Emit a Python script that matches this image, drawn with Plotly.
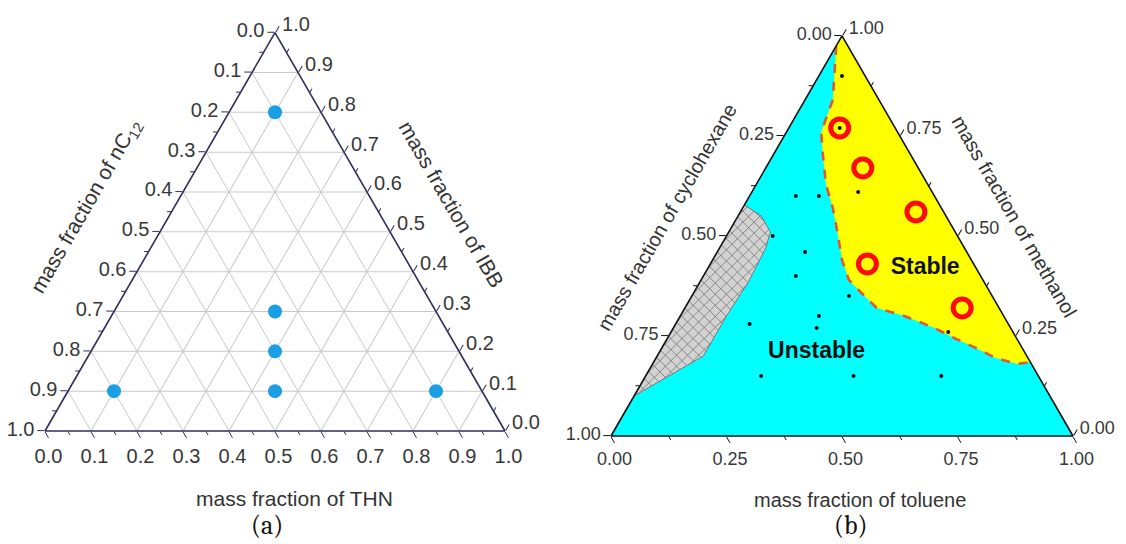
import numpy as np
import plotly.graph_objects as go

W, H = 1126, 544
SANS = "Arial, Liberation Sans, sans-serif"
SERIF = "Cambria, Liberation Serif, DejaVu Serif, serif"

# ---------------- panel (a): IBB (top) / nC12 (left) / THN (right) ----------------
a_ibb = [0.8, 0.3, 0.2, 0.1, 0.1, 0.1]
a_nc12 = [0.1, 0.35, 0.4, 0.45, 0.8, 0.1]
a_thn = [0.1, 0.35, 0.4, 0.45, 0.1, 0.8]

a_tickvals = [0.0, 0.1, 0.2, 0.3, 0.4, 0.5, 0.6, 0.7, 0.8, 0.9, 1.0]
a_ticktext = ["0.0", "0.1", "0.2", "0.3", "0.4", "0.5", "0.6", "0.7", "0.8", "0.9", "1.0"]
a_minorvals = [0.05, 0.15, 0.25, 0.35, 0.45, 0.55, 0.65, 0.75, 0.85, 0.95]

# ---------------- panel (b): methanol (top) / cyclohexane (left) / toluene (right) ----------------
# measured compositions (small black dots)
b_meth = [0.90, 0.60, 0.60, 0.61, 0.50, 0.46, 0.40, 0.35, 0.28, 0.30, 0.27, 0.26, 0.15, 0.15, 0.15, 0.77]
b_cyc = [0.05, 0.30, 0.25, 0.16, 0.40, 0.35, 0.40, 0.31, 0.56, 0.40, 0.42, 0.14, 0.60, 0.40, 0.21, 0.12]
b_tol = [0.05, 0.10, 0.15, 0.23, 0.10, 0.19, 0.20, 0.34, 0.16, 0.30, 0.31, 0.60, 0.25, 0.45, 0.64, 0.11]

# stable blends (red rings)
s_meth = [0.77, 0.67, 0.56, 0.43, 0.32]
s_cyc = [0.12, 0.12, 0.06, 0.23, 0.08]
s_tol = [0.11, 0.21, 0.38, 0.34, 0.60]

# stability boundary, from the methanol corner down to the methanol/toluene edge
bd_meth = [0.975, 0.84, 0.76, 0.715, 0.63, 0.57, 0.51, 0.44, 0.39, 0.36, 0.32, 0.30, 0.27, 0.245, 0.22, 0.195, 0.18, 0.185]
bd_cyc = [0.025, 0.10, 0.165, 0.185, 0.22, 0.235, 0.255, 0.28, 0.29, 0.28, 0.265, 0.215, 0.165, 0.135, 0.10, 0.07, 0.03, 0.0]
bd_tol = [0.0, 0.06, 0.075, 0.10, 0.15, 0.195, 0.235, 0.28, 0.32, 0.36, 0.415, 0.485, 0.565, 0.62, 0.68, 0.735, 0.79, 0.815]

# immiscible (hatched) region along the methanol/cyclohexane edge
hz_meth = [0.5775, 0.55, 0.51, 0.47, 0.385, 0.30, 0.20, 0.10]
hz_cyc = [0.4225, 0.40, 0.40, 0.43, 0.51, 0.60, 0.70, 0.90]
hz_tol = [0.0, 0.05, 0.09, 0.10, 0.105, 0.10, 0.10, 0.0]

b_tickvals = [0.0, 0.25, 0.5, 0.75, 1.0]
b_ticktext = ["0.00", "0.25", "0.50", "0.75", "1.00"]
b_minorvals = [0.125, 0.375, 0.625, 0.875]


def hatch(poly_a, poly_c, spacing):
    """Cross-hatch lines (±45° on screen) clipped to a polygon given in ternary coords."""
    s3 = np.sqrt(3) / 2
    pa = np.asarray(poly_a, float)
    pc = np.asarray(poly_c, float)
    px = pc + pa / 2
    py = pa * s3
    n = len(px)
    ra, rb, rc = [], [], []
    for sign in (1.0, -1.0):
        vals = py - sign * px
        for k in np.arange(vals.min() + spacing / 2, vals.max(), spacing):
            xs = []
            for i in range(n):
                x1, y1 = px[i], py[i]
                x2, y2 = px[(i + 1) % n], py[(i + 1) % n]
                f1 = y1 - sign * x1 - k
                f2 = y2 - sign * x2 - k
                if (f1 > 0) != (f2 > 0):
                    t = f1 / (f1 - f2)
                    xs.append(x1 + t * (x2 - x1))
            xs.sort()
            for j in range(0, len(xs) - 1, 2):
                for x in (xs[j], xs[j + 1]):
                    y = sign * x + k
                    a = y / s3
                    c = x - a / 2
                    ra.append(a)
                    rc.append(c)
                    rb.append(1 - a - c)
                ra.append(None)
                rb.append(None)
                rc.append(None)
    return ra, rb, rc


def axis(vals, text, size, linecolor, gridcolor=None, ticklen=7, labels=True, line=True):
    return dict(
        tickmode="array", tickvals=vals, ticktext=text,
        ticks="outside", ticklen=ticklen, tickwidth=1.3, tickcolor=linecolor,
        showline=line, linecolor=linecolor, linewidth=1.6,
        showgrid=gridcolor is not None, gridcolor=gridcolor or "rgba(0,0,0,0)", gridwidth=1,
        showticklabels=labels,
        tickfont=dict(family=SANS, size=size, color="#383838"),
        title=dict(text=""), min=0,
    )


def dom(x0, x1, ybot, ytop):
    return dict(x=[x0 / W, x1 / W], y=[1 - ybot / H, 1 - ytop / H])


fig = go.Figure()

# ---- panel (a) ----
fig.add_trace(go.Scatterternary(
    a=a_ibb, b=a_nc12, c=a_thn, mode="markers", subplot="ternary",
    marker=dict(size=14, color="#1a9ee4", line=dict(width=0)), hoverinfo="skip"))
fig.add_trace(go.Scatterternary(a=[], b=[], c=[], subplot="ternary2", mode="markers"))

# ---- panel (b) ----
# stable region
fig.add_trace(go.Scatterternary(
    a=bd_meth + [1.0], b=bd_cyc + [0.0], c=bd_tol + [0.0], subplot="ternary3",
    mode="lines", fill="toself", fillcolor="#ffff00", line=dict(width=0, color="#ffff00"),
    hoverinfo="skip"))
# hatched region
fig.add_trace(go.Scatterternary(
    a=hz_meth, b=hz_cyc, c=hz_tol, subplot="ternary3",
    mode="lines", fill="toself", fillcolor="#d2d2d2", line=dict(width=1, color="#787878"),
    hoverinfo="skip"))
ha, hb, hc = hatch(hz_meth, hz_tol, 0.024)
fig.add_trace(go.Scatterternary(
    a=ha, b=hb, c=hc, subplot="ternary3", mode="lines", connectgaps=False,
    line=dict(width=0.7, color="#6a6a6a"), hoverinfo="skip"))
# dashed boundary
fig.add_trace(go.Scatterternary(
    a=bd_meth, b=bd_cyc, c=bd_tol, subplot="ternary3", mode="lines",
    line=dict(width=2.6, color="#de5a36", dash="dash"), hoverinfo="skip"))
# stable blends
fig.add_trace(go.Scatterternary(
    a=s_meth, b=s_cyc, c=s_tol, subplot="ternary3", mode="markers",
    marker=dict(symbol="circle-open", size=18, color="#ff0a0a", line=dict(width=5, color="#ff0a0a")),
    hoverinfo="skip"))
# all measured blends
fig.add_trace(go.Scatterternary(
    a=b_meth, b=b_cyc, c=b_tol, subplot="ternary3", mode="markers",
    marker=dict(size=4, color="#111111"), hoverinfo="skip"))
# region labels
fig.add_trace(go.Scatterternary(
    a=[0.42, 0.21], b=[0.11, 0.45], c=[0.47, 0.34], subplot="ternary3", mode="text",
    text=["<b>Stable</b>", "<b>Unstable</b>"],
    textfont=dict(family=SANS, size=23, color="#111111"), hoverinfo="skip"))
fig.add_trace(go.Scatterternary(a=[], b=[], c=[], subplot="ternary4", mode="markers"))

navy = "#2e2e5e"
rev_a = a_ticktext[::-1]
rev_b = b_ticktext[::-1]
blank_a = [""] * len(a_minorvals)
blank_b = [""] * len(b_minorvals)

dom_a = dom(45, 505, 431, 431 - 460 * np.sqrt(3) / 2)
dom_b = dom(611, 1073, 436, 436 - 462 * np.sqrt(3) / 2)

fig.update_layout(
    width=W, height=H, margin=dict(l=0, r=0, t=0, b=0),
    paper_bgcolor="white", showlegend=False,
    ternary=dict(
        domain=dom_a, sum=1, bgcolor="white",
        aaxis=axis(a_tickvals, rev_a, 20, navy, gridcolor="#c9c9c9"),
        baxis=axis(a_tickvals, rev_a, 20, navy, gridcolor="#c9c9c9"),
        caxis=axis(a_tickvals, rev_a, 20, navy, gridcolor="#c9c9c9"),
    ),
    ternary2=dict(
        domain=dom_a, sum=1, bgcolor="rgba(0,0,0,0)",
        aaxis=axis(a_minorvals, blank_a, 20, navy, ticklen=4, labels=False, line=False),
        baxis=axis(a_minorvals, blank_a, 20, navy, ticklen=4, labels=False, line=False),
        caxis=axis(a_minorvals, blank_a, 20, navy, ticklen=4, labels=False, line=False),
    ),
    ternary3=dict(
        domain=dom_b, sum=1, bgcolor="#00ffff",
        aaxis=axis(b_tickvals, rev_b, 18, "#111111"),
        baxis=axis(b_tickvals, rev_b, 18, "#111111"),
        caxis=axis(b_tickvals, rev_b, 18, "#111111"),
    ),
    ternary4=dict(
        domain=dom_b, sum=1, bgcolor="rgba(0,0,0,0)",
        aaxis=axis(b_minorvals, blank_b, 18, "#111111", ticklen=4, labels=False, line=False),
        baxis=axis(b_minorvals, blank_b, 18, "#111111", ticklen=4, labels=False, line=False),
        caxis=axis(b_minorvals, blank_b, 18, "#111111", ticklen=4, labels=False, line=False),
    ),
)


def label(text, px, py, size, angle=0, family=SANS, color="#333333"):
    fig.add_annotation(
        text=text, x=px / W, y=1 - py / H, xref="paper", yref="paper",
        xanchor="center", yanchor="middle", showarrow=False, textangle=angle,
        font=dict(family=family, size=size, color=color))


label("mass fraction of THN", 294, 498, 21)
label("mass fraction of nC<sub>12</sub>", 86, 207, 21, angle=-60)
label("mass fraction of IBB", 452, 204, 21, angle=60)
label("(a)", 267, 526, 26, family=SERIF, color="#111111")

label("mass fraction of toluene", 860, 500, 20)
label("mass fraction of cyclohexane", 667, 217, 20, angle=-60)
label("mass fraction of methanol", 1014, 216, 20, angle=60)
label("(b)", 850, 526, 26, family=SERIF, color="#111111")

fig.write_html("out.html")
